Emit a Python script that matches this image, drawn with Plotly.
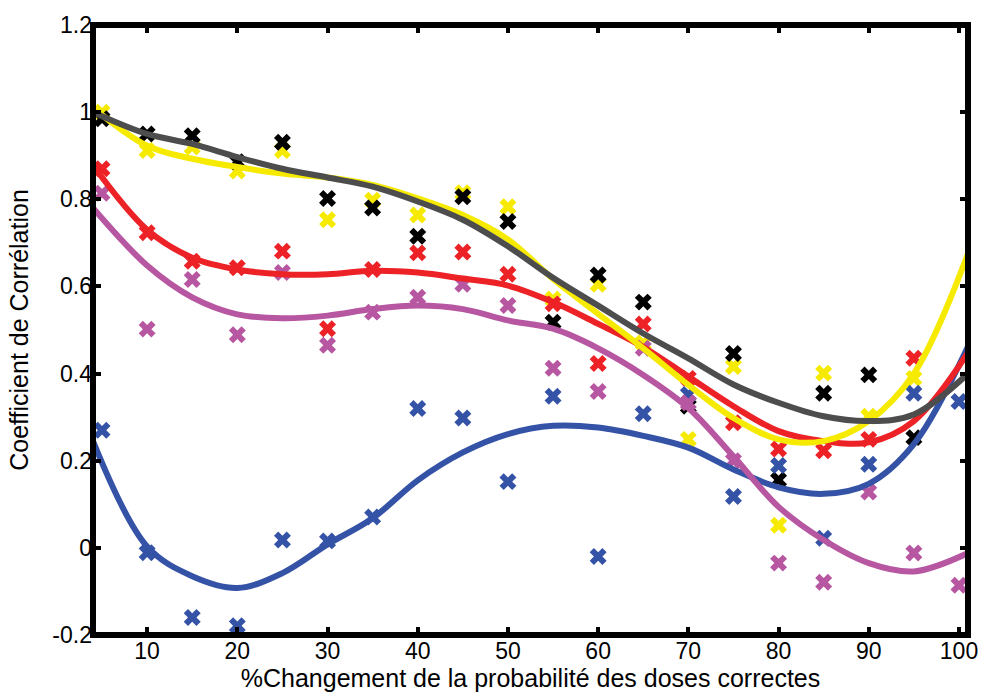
import plotly.graph_objects as go

# Dose-probability change (%) at which each correlation was measured
pct = [5, 10, 15, 20, 25, 30, 35, 40, 45, 50, 55, 60, 65, 70, 75, 80, 85, 90, 95, 100]

# Measured correlation coefficients, one list per series (None = not measured)
corr_black = [0.985, 0.950, 0.946, 0.886, 0.931, 0.802, 0.780, 0.715, 0.806, 0.749,
              0.518, 0.626, 0.564, 0.325, 0.446, 0.156, 0.355, 0.397, 0.253, None]
corr_yellow = [1.000, 0.912, 0.920, 0.865, 0.912, 0.753, 0.798, 0.764, 0.815, 0.783,
               0.571, 0.605, 0.470, 0.249, 0.416, 0.052, 0.401, 0.302, 0.389, None]
corr_red = [0.870, 0.723, 0.658, 0.643, 0.681, 0.503, 0.639, 0.677, 0.679, 0.628,
            0.560, 0.423, 0.514, 0.389, 0.287, 0.227, 0.223, 0.249, 0.435, None]
corr_magenta = [0.814, 0.502, 0.616, 0.489, 0.632, 0.465, 0.541, 0.575, 0.605, 0.556,
                0.412, 0.359, 0.458, 0.333, 0.200, -0.035, -0.079, 0.128, -0.012, -0.086]
corr_blue = [0.270, -0.011, -0.160, -0.179, 0.018, 0.016, 0.071, 0.320, 0.298, 0.152,
             0.348, -0.020, 0.308, 0.352, 0.118, 0.189, 0.022, 0.192, 0.355, 0.336]

# Smoothed trend of each series, sampled across the axis span
fit_x = [4.0, 10, 15, 20, 25, 30, 35, 40, 45, 50, 55, 60, 65, 70, 75, 80, 85, 90, 95, 101.0]
fit_grey = [1.000, 0.950, 0.927, 0.897, 0.870, 0.850, 0.829, 0.795, 0.753, 0.692,
            0.620, 0.556, 0.492, 0.435, 0.375, 0.333, 0.302, 0.291, 0.306, 0.400]
fit_yellow = [1.010, 0.923, 0.893, 0.874, 0.859, 0.850, 0.833, 0.802, 0.764, 0.708,
              0.617, 0.537, 0.458, 0.374, 0.298, 0.249, 0.245, 0.291, 0.400, 0.675]
fit_red = [0.878, 0.730, 0.666, 0.639, 0.628, 0.628, 0.636, 0.632, 0.618, 0.602,
           0.564, 0.514, 0.461, 0.393, 0.325, 0.268, 0.245, 0.242, 0.291, 0.448]
fit_magenta = [0.780, 0.648, 0.575, 0.536, 0.527, 0.533, 0.548, 0.556, 0.548, 0.522,
               0.503, 0.458, 0.397, 0.321, 0.210, 0.094, 0.018, -0.035, -0.054, -0.012]
fit_blue = [0.245, 0.003, -0.065, -0.092, -0.058, 0.008, 0.068, 0.155, 0.219, 0.261,
            0.280, 0.276, 0.257, 0.230, 0.180, 0.139, 0.124, 0.147, 0.238, 0.462]

y_ticks = [-0.2, 0, 0.2, 0.4, 0.6, 0.8, 1, 1.2]
y_tick_text = ["-0.2", "0", "0.2", "0.4", "0.6", "0.8", "1", "1.2"]
x_ticks = [10, 20, 30, 40, 50, 60, 70, 80, 90, 100]

BLACK = "#000000"
GREY = "#4d4d4d"
YELLOW = "#f6ea00"
RED = "#ec2227"
MAGENTA = "#b857a1"
BLUE = "#3553a6"

fig = go.Figure()

# Scatter of measured values (thick cross markers)
for vals, col in [(corr_yellow, YELLOW), (corr_black, BLACK), (corr_red, RED),
                  (corr_blue, BLUE), (corr_magenta, MAGENTA)]:
    fig.add_trace(go.Scatter(
        x=pct, y=vals, mode="markers",
        marker=dict(symbol="x", size=15, color=col, line=dict(width=0)),
        showlegend=False, hoverinfo="skip"))

# Smoothed trend lines on top
for vals, col in [(fit_blue, BLUE), (fit_magenta, MAGENTA), (fit_red, RED),
                  (fit_yellow, YELLOW), (fit_grey, GREY)]:
    fig.add_trace(go.Scatter(
        x=fit_x, y=vals, mode="lines",
        line=dict(color=col, width=6, shape="spline", smoothing=1.0),
        showlegend=False, hoverinfo="skip"))

FONT = "Liberation Sans, Arial, sans-serif"

axis_common = dict(
    showgrid=False, zeroline=False, showline=False, mirror="ticks",
    ticks="inside", ticklen=8, tickwidth=4, tickcolor="black",
    tickfont=dict(size=23),
)

fig.update_layout(
    width=990, height=700,
    margin=dict(l=93, r=17, t=21, b=64),
    paper_bgcolor="white", plot_bgcolor="white",
    font=dict(family=FONT, color="black", size=23),
    xaxis=dict(
        range=[4, 101], tickvals=x_ticks,
        title=dict(text="%Changement de la probabilité des doses correctes",
                   font=dict(size=25), standoff=6),
        **axis_common,
    ),
    yaxis=dict(
        range=[-0.2, 1.2], tickvals=y_ticks, ticktext=y_tick_text,
        title=dict(text="Coefficient de Corrélation", font=dict(size=25), standoff=16),
        **axis_common,
    ),
    # heavy box around the plotting area
    shapes=[dict(type="rect", xref="paper", yref="paper", x0=0, x1=1, y0=0, y1=1,
                 line=dict(color="black", width=6), layer="above")],
)

fig.write_html("out.html")
